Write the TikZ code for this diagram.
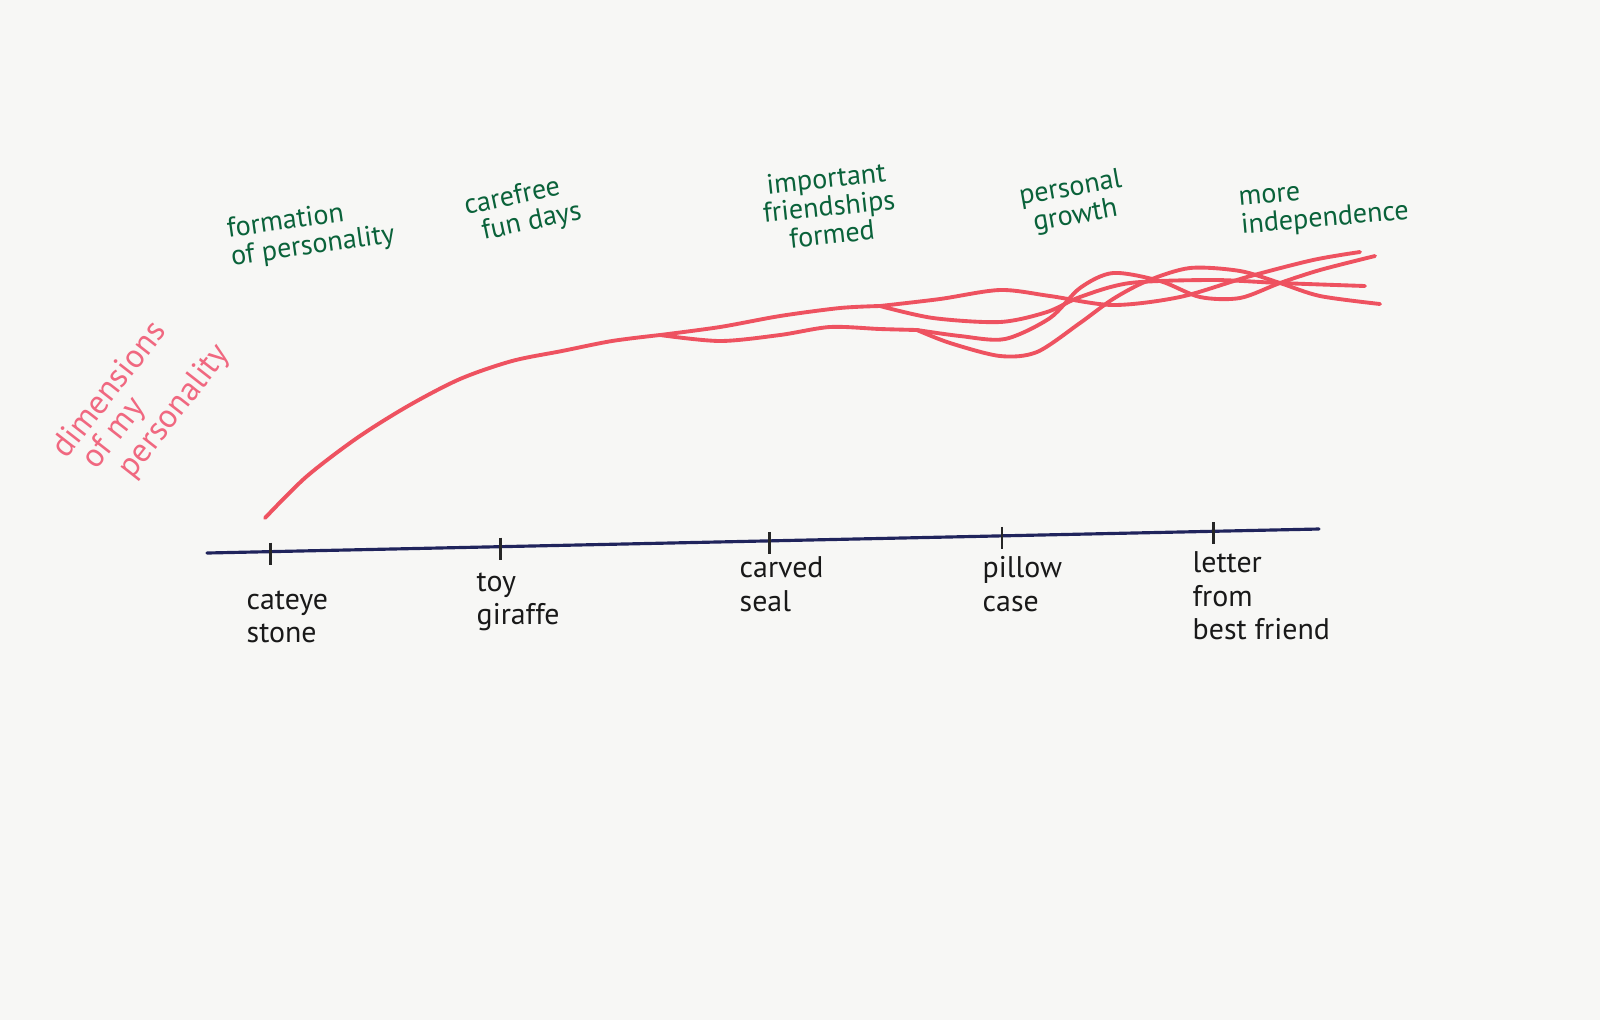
\documentclass[tikz,border=0pt]{standalone}
\usepackage{fontspec}
\setmainfont{PT Sans}
\usetikzlibrary{positioning}
\definecolor{paper}{RGB}{247,247,245}
\definecolor{penred}{RGB}{238,82,96}
\definecolor{penpink}{RGB}{240,104,128}
\definecolor{inkgreen}{RGB}{10,98,58}
\definecolor{axisblue}{RGB}{32,36,92}
\tikzset{
  strand/.style={
    draw=penred,
    line width=1.1pt,
    line cap=round,
    line join=round
  },
  time axis/.style={
    draw=axisblue,
    line width=0.9pt,
    line cap=round
  },
  tick mark/.style={
    draw=black!85,
    line width=0.7pt
  },
  object label/.style={
    font=\fontsize{8.5}{9.5}\selectfont,
    text=black!90,
    align=left,
    inner sep=0pt
  },
  stage label/.style={
    font=\fontsize{8}{8}\selectfont,
    text=inkgreen,
    inner sep=0pt
  },
  dimension label/.style={
    font=\fontsize{9.5}{8.5}\selectfont,
    text=penpink,
    align=left,
    inner sep=0pt
  }
}

\begin{document}
\begin{tikzpicture}[x=0.1mm, y=-0.1mm]

    % paper
    \fill[paper] (0,0) rectangle (1600,1020);
    \useasboundingbox (0,0) rectangle (1600,1020);

    % time axis with the five objects
    \coordinate (axis start) at (207,553);
    \coordinate (axis end) at (1319,529);
    \draw[time axis] (axis start) -- (axis end)
      coordinate[pos=0.057] (t1)
      coordinate[pos=0.264] (t2)
      coordinate[pos=0.506] (t3)
      coordinate[pos=0.715] (t4)
      coordinate[pos=0.905] (t5);
    \foreach \t in {t1,t2,t3,t4,t5}
      \draw[tick mark] (\t) ++(0,-9) -- ++(0,22);

    \node[object label, anchor=north west] (cateye) at (246,590) {cateye\\stone};
    \node[object label, anchor=north west] (giraffe) at (476,572) {toy\\giraffe};
    \node[object label, anchor=north west] (seal) at (739,556) {carved\\seal};
    \node[object label, anchor=north west] (pillow) at (982,556) {pillow\\case};
    \node[object label, anchor=north west] (letter) at (1192,551) {letter\\from\\best friend};

    % stages
    \node[stage label, align=left, rotate=8] (formation) at (311,233) {formation\\of personality};
    \node[stage label, align=left, rotate=12] (carefree) at (523,210) {carefree\\\hspace{1.2mm}fun days};
    \node[stage label, align=center, rotate=6] (friendships) at (829,206) {important\\friendships\\formed};
    \node[stage label, align=center, rotate=10] (growth) at (1073,203) {personal\\growth};
    \node[stage label, align=left, rotate=5] (independence) at (1324,208) {more\\independence};

    % side label
    \node[dimension label, rotate=52] (dimensions) at (142,402) {dimensions\\\hspace{1mm}of my\\\hspace{2.5mm}personality};

    % the personality strands
    \coordinate (split1) at (660,335);
    \coordinate (split2) at (880,306);
    \coordinate (split3) at (917,330);
    \draw[strand] plot[smooth] coordinates {(265,518) (306,477) (357,438) (408,406)
      (460,379) (512,361) (562,351) (612,341) (split1)};
    % upper pair
    \draw[strand] plot[smooth] coordinates {(split1) (720,327) (780,316) (840,308)
      (split2)};
    \draw[strand] plot[smooth] coordinates {(split2) (940,299) (1000,290) (1050,296)
      (1113,305) (1180,297) (1247,277) (1313,260) (1360,252)};
    \draw[strand] plot[smooth] coordinates {(split2) (933,318) (1000,322)
      (1047,312) (1080,297) (1130,283) (1213,280) (1280,283) (1365,286)};
    % lower pair
    \draw[strand] plot[smooth] coordinates {(split1) (720,341) (780,335)
      (830,327) (880,329) (split3)};
    \draw[strand] plot[smooth] coordinates {(split3) (960,336) (1005,339)
      (1050,318) (1080,288) (1113,273) (1160,281) (1200,297) (1240,298) (1280,283)
      (1320,270) (1375,256)};
    \draw[strand] plot[smooth] coordinates {(split3) (950,343) (1000,356) (1037,352)
      (1080,323) (1113,299) (1147,281) (1190,268) (1240,271) (1280,283) (1320,296)
      (1380,304)};

\end{tikzpicture}
\end{document}
